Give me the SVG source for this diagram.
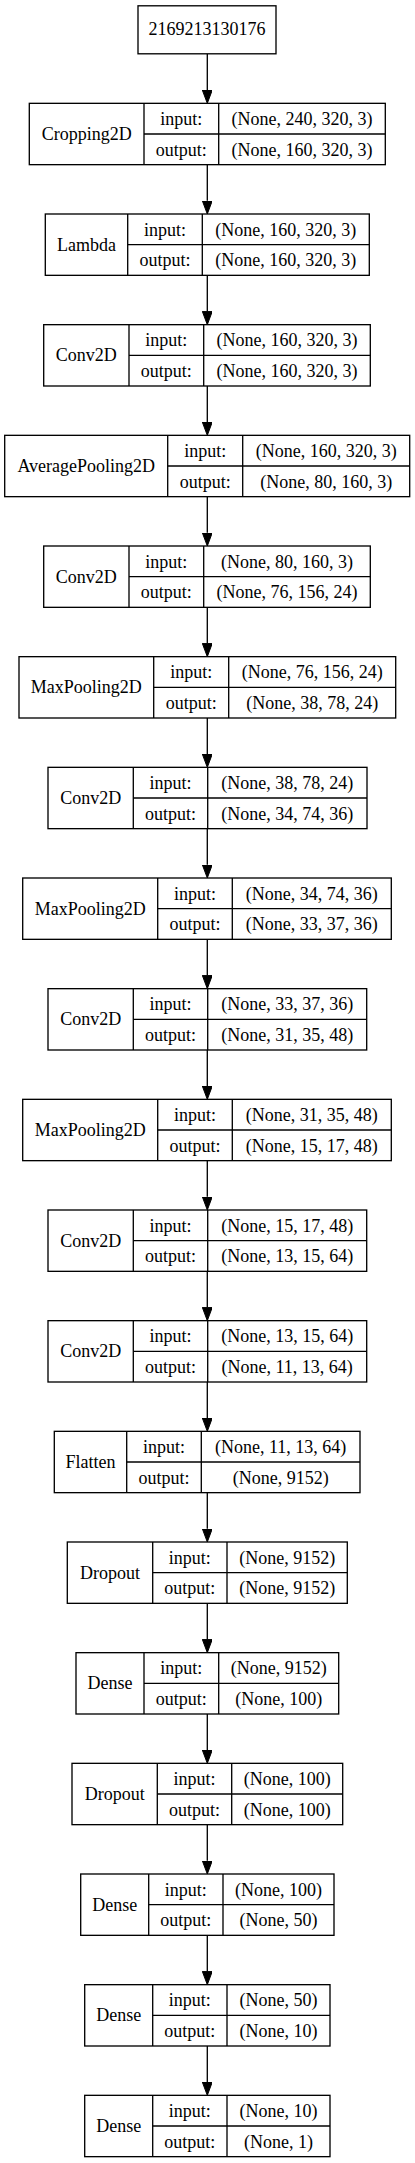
<svg xmlns="http://www.w3.org/2000/svg" width="415" height="2163" viewBox="0 0 415 2163">
<style>
.bg{fill:#fff}
.box{fill:#fff;stroke:#000;stroke-width:1.33}
.ln{stroke:#000;stroke-width:1.33;fill:none}
text{font-family:"Liberation Serif","Times New Roman",serif;font-size:18px;fill:#000;text-anchor:middle}
</style>
<defs>
<marker id="ah" markerUnits="userSpaceOnUse" viewBox="0 -5 13.33 10" refX="0" refY="0" markerWidth="13.33" markerHeight="10" orient="auto">
<path d="M0,-5 L13.33,0 L0,5 z" fill="#000" stroke="#000" stroke-width="1"/>
</marker>
</defs>
<rect class="bg" x="0" y="0" width="415" height="2163"/>
<g id="connectors">
<line class="ln" x1="207.3" y1="53.8" x2="207.3" y2="90" marker-end="url(#ah)"/>
<line class="ln" x1="207.3" y1="164.67" x2="207.3" y2="200.67" marker-end="url(#ah)"/>
<line class="ln" x1="207.3" y1="275.33" x2="207.3" y2="311.33" marker-end="url(#ah)"/>
<line class="ln" x1="207.3" y1="386" x2="207.3" y2="422" marker-end="url(#ah)"/>
<line class="ln" x1="207.3" y1="496.67" x2="207.3" y2="532.67" marker-end="url(#ah)"/>
<line class="ln" x1="207.3" y1="607.33" x2="207.3" y2="643.33" marker-end="url(#ah)"/>
<line class="ln" x1="207.3" y1="718" x2="207.3" y2="754" marker-end="url(#ah)"/>
<line class="ln" x1="207.3" y1="828.67" x2="207.3" y2="864.67" marker-end="url(#ah)"/>
<line class="ln" x1="207.3" y1="939.33" x2="207.3" y2="975.33" marker-end="url(#ah)"/>
<line class="ln" x1="207.3" y1="1050" x2="207.3" y2="1086" marker-end="url(#ah)"/>
<line class="ln" x1="207.3" y1="1160.67" x2="207.3" y2="1196.67" marker-end="url(#ah)"/>
<line class="ln" x1="207.3" y1="1271.33" x2="207.3" y2="1307.33" marker-end="url(#ah)"/>
<line class="ln" x1="207.3" y1="1382" x2="207.3" y2="1418" marker-end="url(#ah)"/>
<line class="ln" x1="207.3" y1="1492.67" x2="207.3" y2="1528.67" marker-end="url(#ah)"/>
<line class="ln" x1="207.3" y1="1603.33" x2="207.3" y2="1639.33" marker-end="url(#ah)"/>
<line class="ln" x1="207.3" y1="1714" x2="207.3" y2="1750" marker-end="url(#ah)"/>
<line class="ln" x1="207.3" y1="1824.67" x2="207.3" y2="1860.67" marker-end="url(#ah)"/>
<line class="ln" x1="207.3" y1="1935.33" x2="207.3" y2="1971.33" marker-end="url(#ah)"/>
<line class="ln" x1="207.3" y1="2046" x2="207.3" y2="2082" marker-end="url(#ah)"/>
</g>
<g id="input_node">
<rect class="box" x="138" y="5.8" width="138" height="48"/>
<text x="207" y="35">2169213130176</text>
</g>
<g id="n0" transform="translate(0,103.33)">
<rect class="box" x="29.3" y="0" width="356" height="61.33"/>
<line class="ln" x1="144" y1="0" x2="144" y2="61.33"/><line class="ln" x1="218.7" y1="0" x2="218.7" y2="61.33"/><line class="ln" x1="144" y1="30.67" x2="385.3" y2="30.67"/>
<text x="86.65" y="36.5">Cropping2D</text><text x="181.35" y="21.5">input:</text><text x="181.35" y="52.2">output:</text><text x="302" y="21.5">(None, 240, 320, 3)</text><text x="302" y="52.2">(None, 160, 320, 3)</text>
</g>
<g id="n1" transform="translate(0,214)">
<rect class="box" x="45.3" y="0" width="324" height="61.33"/>
<line class="ln" x1="127.7" y1="0" x2="127.7" y2="61.33"/><line class="ln" x1="202.3" y1="0" x2="202.3" y2="61.33"/><line class="ln" x1="127.7" y1="30.67" x2="369.3" y2="30.67"/>
<text x="86.5" y="36.5">Lambda</text><text x="165" y="21.5">input:</text><text x="165" y="52.2">output:</text><text x="285.8" y="21.5">(None, 160, 320, 3)</text><text x="285.8" y="52.2">(None, 160, 320, 3)</text>
</g>
<g id="n2" transform="translate(0,324.67)">
<rect class="box" x="43.7" y="0" width="326.6" height="61.33"/>
<line class="ln" x1="129" y1="0" x2="129" y2="61.33"/><line class="ln" x1="203.7" y1="0" x2="203.7" y2="61.33"/><line class="ln" x1="129" y1="30.67" x2="370.3" y2="30.67"/>
<text x="86.35" y="36.5">Conv2D</text><text x="166.35" y="21.5">input:</text><text x="166.35" y="52.2">output:</text><text x="287" y="21.5">(None, 160, 320, 3)</text><text x="287" y="52.2">(None, 160, 320, 3)</text>
</g>
<g id="n3" transform="translate(0,435.33)">
<rect class="box" x="4.7" y="0" width="405" height="61.33"/>
<line class="ln" x1="167.7" y1="0" x2="167.7" y2="61.33"/><line class="ln" x1="242.7" y1="0" x2="242.7" y2="61.33"/><line class="ln" x1="167.7" y1="30.67" x2="409.7" y2="30.67"/>
<text x="86.2" y="36.5">AveragePooling2D</text><text x="205.2" y="21.5">input:</text><text x="205.2" y="52.2">output:</text><text x="326.2" y="21.5">(None, 160, 320, 3)</text><text x="326.2" y="52.2">(None, 80, 160, 3)</text>
</g>
<g id="n4" transform="translate(0,546)">
<rect class="box" x="43.7" y="0" width="326.6" height="61.33"/>
<line class="ln" x1="129" y1="0" x2="129" y2="61.33"/><line class="ln" x1="203.7" y1="0" x2="203.7" y2="61.33"/><line class="ln" x1="129" y1="30.67" x2="370.3" y2="30.67"/>
<text x="86.35" y="36.5">Conv2D</text><text x="166.35" y="21.5">input:</text><text x="166.35" y="52.2">output:</text><text x="287" y="21.5">(None, 80, 160, 3)</text><text x="287" y="52.2">(None, 76, 156, 24)</text>
</g>
<g id="n5" transform="translate(0,656.67)">
<rect class="box" x="19" y="0" width="376.7" height="61.33"/>
<line class="ln" x1="153.7" y1="0" x2="153.7" y2="61.33"/><line class="ln" x1="228.7" y1="0" x2="228.7" y2="61.33"/><line class="ln" x1="153.7" y1="30.67" x2="395.7" y2="30.67"/>
<text x="86.35" y="36.5">MaxPooling2D</text><text x="191.2" y="21.5">input:</text><text x="191.2" y="52.2">output:</text><text x="312.2" y="21.5">(None, 76, 156, 24)</text><text x="312.2" y="52.2">(None, 38, 78, 24)</text>
</g>
<g id="n6" transform="translate(0,767.33)">
<rect class="box" x="48" y="0" width="319" height="61.33"/>
<line class="ln" x1="133.3" y1="0" x2="133.3" y2="61.33"/><line class="ln" x1="207.7" y1="0" x2="207.7" y2="61.33"/><line class="ln" x1="133.3" y1="30.67" x2="367" y2="30.67"/>
<text x="90.65" y="36.5">Conv2D</text><text x="170.5" y="21.5">input:</text><text x="170.5" y="52.2">output:</text><text x="287.35" y="21.5">(None, 38, 78, 24)</text><text x="287.35" y="52.2">(None, 34, 74, 36)</text>
</g>
<g id="n7" transform="translate(0,878)">
<rect class="box" x="22.7" y="0" width="368.6" height="61.33"/>
<line class="ln" x1="157.7" y1="0" x2="157.7" y2="61.33"/><line class="ln" x1="232.3" y1="0" x2="232.3" y2="61.33"/><line class="ln" x1="157.7" y1="30.67" x2="391.3" y2="30.67"/>
<text x="90.2" y="36.5">MaxPooling2D</text><text x="195" y="21.5">input:</text><text x="195" y="52.2">output:</text><text x="311.8" y="21.5">(None, 34, 74, 36)</text><text x="311.8" y="52.2">(None, 33, 37, 36)</text>
</g>
<g id="n8" transform="translate(0,988.67)">
<rect class="box" x="48" y="0" width="318.7" height="61.33"/>
<line class="ln" x1="133.3" y1="0" x2="133.3" y2="61.33"/><line class="ln" x1="207.7" y1="0" x2="207.7" y2="61.33"/><line class="ln" x1="133.3" y1="30.67" x2="366.7" y2="30.67"/>
<text x="90.65" y="36.5">Conv2D</text><text x="170.5" y="21.5">input:</text><text x="170.5" y="52.2">output:</text><text x="287.2" y="21.5">(None, 33, 37, 36)</text><text x="287.2" y="52.2">(None, 31, 35, 48)</text>
</g>
<g id="n9" transform="translate(0,1099.33)">
<rect class="box" x="22.7" y="0" width="368.6" height="61.33"/>
<line class="ln" x1="157.7" y1="0" x2="157.7" y2="61.33"/><line class="ln" x1="232.3" y1="0" x2="232.3" y2="61.33"/><line class="ln" x1="157.7" y1="30.67" x2="391.3" y2="30.67"/>
<text x="90.2" y="36.5">MaxPooling2D</text><text x="195" y="21.5">input:</text><text x="195" y="52.2">output:</text><text x="311.8" y="21.5">(None, 31, 35, 48)</text><text x="311.8" y="52.2">(None, 15, 17, 48)</text>
</g>
<g id="n10" transform="translate(0,1210)">
<rect class="box" x="48" y="0" width="318.7" height="61.33"/>
<line class="ln" x1="133.3" y1="0" x2="133.3" y2="61.33"/><line class="ln" x1="207.7" y1="0" x2="207.7" y2="61.33"/><line class="ln" x1="133.3" y1="30.67" x2="366.7" y2="30.67"/>
<text x="90.65" y="36.5">Conv2D</text><text x="170.5" y="21.5">input:</text><text x="170.5" y="52.2">output:</text><text x="287.2" y="21.5">(None, 15, 17, 48)</text><text x="287.2" y="52.2">(None, 13, 15, 64)</text>
</g>
<g id="n11" transform="translate(0,1320.67)">
<rect class="box" x="48" y="0" width="318.7" height="61.33"/>
<line class="ln" x1="133.3" y1="0" x2="133.3" y2="61.33"/><line class="ln" x1="207.7" y1="0" x2="207.7" y2="61.33"/><line class="ln" x1="133.3" y1="30.67" x2="366.7" y2="30.67"/>
<text x="90.65" y="36.5">Conv2D</text><text x="170.5" y="21.5">input:</text><text x="170.5" y="52.2">output:</text><text x="287.2" y="21.5">(None, 13, 15, 64)</text><text x="287.2" y="52.2">(None, 11, 13, 64)</text>
</g>
<g id="n12" transform="translate(0,1431.33)">
<rect class="box" x="54.3" y="0" width="305.7" height="61.33"/>
<line class="ln" x1="126.7" y1="0" x2="126.7" y2="61.33"/><line class="ln" x1="201.3" y1="0" x2="201.3" y2="61.33"/><line class="ln" x1="126.7" y1="30.67" x2="360" y2="30.67"/>
<text x="90.5" y="36.5">Flatten</text><text x="164" y="21.5">input:</text><text x="164" y="52.2">output:</text><text x="280.65" y="21.5">(None, 11, 13, 64)</text><text x="280.65" y="52.2">(None, 9152)</text>
</g>
<g id="n13" transform="translate(0,1542)">
<rect class="box" x="67.3" y="0" width="280" height="61.33"/>
<line class="ln" x1="152.7" y1="0" x2="152.7" y2="61.33"/><line class="ln" x1="227" y1="0" x2="227" y2="61.33"/><line class="ln" x1="152.7" y1="30.67" x2="347.3" y2="30.67"/>
<text x="110" y="36.5">Dropout</text><text x="189.85" y="21.5">input:</text><text x="189.85" y="52.2">output:</text><text x="287.15" y="21.5">(None, 9152)</text><text x="287.15" y="52.2">(None, 9152)</text>
</g>
<g id="n14" transform="translate(0,1652.67)">
<rect class="box" x="76" y="0" width="262.7" height="61.33"/>
<line class="ln" x1="144" y1="0" x2="144" y2="61.33"/><line class="ln" x1="218.7" y1="0" x2="218.7" y2="61.33"/><line class="ln" x1="144" y1="30.67" x2="338.7" y2="30.67"/>
<text x="110" y="36.5">Dense</text><text x="181.35" y="21.5">input:</text><text x="181.35" y="52.2">output:</text><text x="278.7" y="21.5">(None, 9152)</text><text x="278.7" y="52.2">(None, 100)</text>
</g>
<g id="n15" transform="translate(0,1763.33)">
<rect class="box" x="72" y="0" width="270.7" height="61.33"/>
<line class="ln" x1="157.3" y1="0" x2="157.3" y2="61.33"/><line class="ln" x1="231.7" y1="0" x2="231.7" y2="61.33"/><line class="ln" x1="157.3" y1="30.67" x2="342.7" y2="30.67"/>
<text x="114.65" y="36.5">Dropout</text><text x="194.5" y="21.5">input:</text><text x="194.5" y="52.2">output:</text><text x="287.2" y="21.5">(None, 100)</text><text x="287.2" y="52.2">(None, 100)</text>
</g>
<g id="n16" transform="translate(0,1874)">
<rect class="box" x="80.7" y="0" width="253.3" height="61.33"/>
<line class="ln" x1="148.7" y1="0" x2="148.7" y2="61.33"/><line class="ln" x1="223" y1="0" x2="223" y2="61.33"/><line class="ln" x1="148.7" y1="30.67" x2="334" y2="30.67"/>
<text x="114.7" y="36.5">Dense</text><text x="185.85" y="21.5">input:</text><text x="185.85" y="52.2">output:</text><text x="278.5" y="21.5">(None, 100)</text><text x="278.5" y="52.2">(None, 50)</text>
</g>
<g id="n17" transform="translate(0,1984.67)">
<rect class="box" x="84.7" y="0" width="245.3" height="61.33"/>
<line class="ln" x1="152.7" y1="0" x2="152.7" y2="61.33"/><line class="ln" x1="227" y1="0" x2="227" y2="61.33"/><line class="ln" x1="152.7" y1="30.67" x2="330" y2="30.67"/>
<text x="118.7" y="36.5">Dense</text><text x="189.85" y="21.5">input:</text><text x="189.85" y="52.2">output:</text><text x="278.5" y="21.5">(None, 50)</text><text x="278.5" y="52.2">(None, 10)</text>
</g>
<g id="n18" transform="translate(0,2095.33)">
<rect class="box" x="84.7" y="0" width="245.3" height="61.33"/>
<line class="ln" x1="152.7" y1="0" x2="152.7" y2="61.33"/><line class="ln" x1="227" y1="0" x2="227" y2="61.33"/><line class="ln" x1="152.7" y1="30.67" x2="330" y2="30.67"/>
<text x="118.7" y="36.5">Dense</text><text x="189.85" y="21.5">input:</text><text x="189.85" y="52.2">output:</text><text x="278.5" y="21.5">(None, 10)</text><text x="278.5" y="52.2">(None, 1)</text>
</g>
</svg>
